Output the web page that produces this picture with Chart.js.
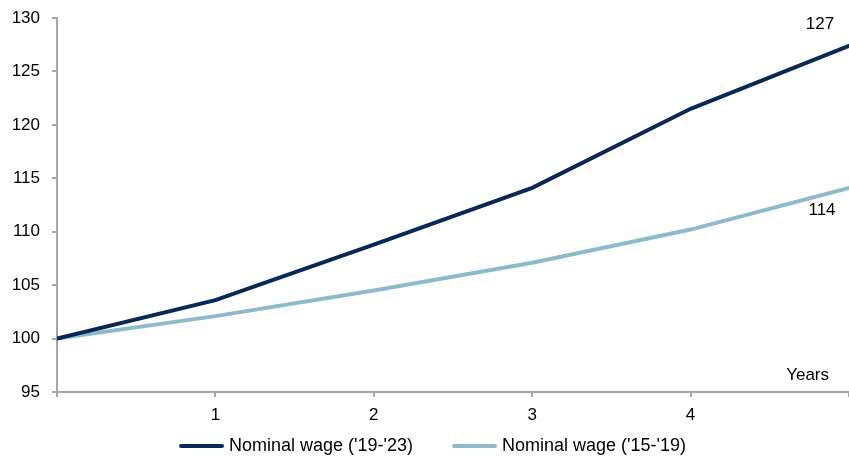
<!DOCTYPE html>
<html>
<head>
<meta charset="utf-8">
<style>
  html, body { margin: 0; padding: 0; background: #fff; }
  #wrap { width: 849px; height: 459px; position: relative; }
</style>
<script src="https://cdn.jsdelivr.net/npm/chart.js@4/dist/chart.umd.min.js"></script>
</head>
<body>
<div id="wrap"><canvas id="c" width="849" height="459"></canvas></div>
<script>
// Years since start of each period
const years = [0, 1, 2, 3, 4, 5];
// Nominal wage index (start = 100)
const wage1923 = [100, 103.6, 108.8, 114.1, 121.5, 127.4];
const wage1519 = [100, 102.1, 104.5, 107.1, 110.2, 114.1];
const seriesNames = ["Nominal wage ('19-'23)", "Nominal wage ('15-'19)"];
const xTickLabels = ['', '1', '2', '3', '4', ''];
const xAxisTitle = 'Years';

const DARK = '#0a2856';
const LIGHT = '#8ebbca';
const AXIS = '#a6a6a6';
const FONT = "'Liberation Sans', Arial, Helvetica, sans-serif";

const toPoints = arr => arr.map((v, i) => ({ x: years[i], y: v }));

// Legend swatch: a short thick line with rounded ends, sitting just left of the label
function lineSwatch(color) {
  const c = document.createElement('canvas');
  c.width = 84; c.height = 8;
  const g = c.getContext('2d');
  g.strokeStyle = color;
  g.lineWidth = 4;
  g.lineCap = 'round';
  g.beginPath();
  g.moveTo(39, 4);
  g.lineTo(80, 4);
  g.stroke();
  return c;
}

// Writes end values next to each line and the axis caption
const endLabels = {
  id: 'endLabels',
  afterLayout(chart) {
    // centre the legend row under the plot rather than the whole canvas
    if (chart.legend) { chart.legend.left -= 7.5; chart.legend.right -= 7.5; }
  },
  afterDatasetsDraw(chart) {
    const { ctx, chartArea, scales } = chart;
    const xs = scales.x, ys = scales.y;
    const last = years.length - 1;
    ctx.save();
    ctx.fillStyle = '#000';
    ctx.font = '17px ' + FONT;
    ctx.textAlign = 'center';
    ctx.textBaseline = 'middle';
    const xEnd = xs.getPixelForValue(years[last]);
    ctx.fillText(String(Math.round(wage1923[last])), xEnd - 29, ys.getPixelForValue(wage1923[last]) - 21);
    ctx.fillText(String(Math.round(wage1519[last])), xEnd - 27, ys.getPixelForValue(wage1519[last]) + 22);
    ctx.textAlign = 'right';
    ctx.fillText(xAxisTitle, chartArea.right - 20, chartArea.bottom - 17);
    ctx.restore();
  }
};

new Chart(document.getElementById('c'), {
  type: 'line',
  data: {
    datasets: [
      {
        label: seriesNames[0],
        data: toPoints(wage1923),
        borderColor: DARK,
        backgroundColor: DARK,
        borderWidth: 4,
        borderCapStyle: 'round',
        pointRadius: 0,
        pointStyle: lineSwatch(DARK),
        tension: 0
      },
      {
        label: seriesNames[1],
        data: toPoints(wage1519),
        borderColor: LIGHT,
        backgroundColor: LIGHT,
        borderWidth: 4,
        borderCapStyle: 'round',
        pointRadius: 0,
        pointStyle: lineSwatch(LIGHT),
        tension: 0
      }
    ]
  },
  options: {
    responsive: false,
    animation: false,
    layout: { padding: { top: 18, right: 0, left: 0, bottom: -6 } },
    plugins: {
      tooltip: { enabled: false },
      legend: {
        position: 'bottom',
        labels: {
          usePointStyle: true,
          pointStyleWidth: 72,
          boxHeight: 18,
          padding: 8,
          color: '#000',
          font: { family: FONT, size: 18 }
        }
      }
    },
    scales: {
      x: {
        type: 'linear',
        min: 0,
        max: 5,
        border: { color: AXIS, width: 2 },
        grid: { drawOnChartArea: false, drawTicks: true, tickLength: 5, color: AXIS, lineWidth: 2 },
        ticks: {
          stepSize: 1,
          color: '#000',
          padding: 8,
          maxRotation: 0,
          font: { family: FONT, size: 17 },
          callback: (v) => xTickLabels[v] !== undefined ? xTickLabels[v] : ''
        },
        afterFit(scale) { scale.height = 37; scale.paddingRight = 0; scale.paddingLeft = 0; }
      },
      y: {
        min: 95,
        max: 130,
        border: { color: AXIS, width: 2 },
        grid: { drawOnChartArea: false, drawTicks: true, tickLength: 5, color: AXIS, lineWidth: 2 },
        ticks: {
          stepSize: 5,
          color: '#000',
          padding: 12,
          font: { family: FONT, size: 17 }
        },
        afterFit(scale) { scale.width = 57; scale.paddingTop = 0; scale.paddingBottom = 0; }
      }
    }
  },
  plugins: [endLabels]
});
</script>
</body>
</html>
